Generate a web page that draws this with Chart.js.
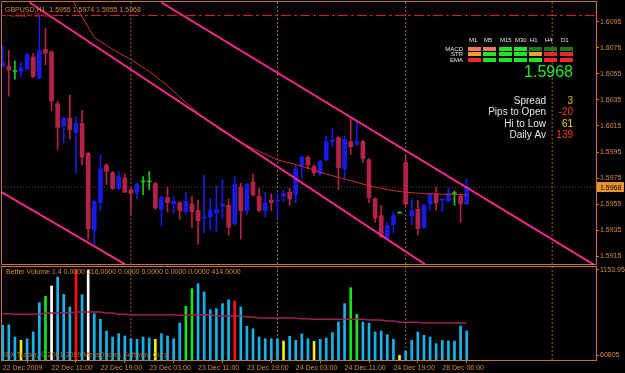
<!DOCTYPE html>
<html>
<head>
<meta charset="utf-8">
<script src="https://cdn.jsdelivr.net/npm/chart.js@4/dist/chart.umd.min.js"></script>
<style>
  html, body { margin: 0; padding: 0; background: #000; }
  #wrap { position: relative; width: 625px; height: 373px; background: #000; overflow: hidden; }
  canvas { position: absolute; left: 0; }
  #price { top: 0; }
  #vol { top: 264px; }
</style>
</head>
<body>
<div id="wrap">
  <canvas id="price" width="625" height="266"></canvas>
  <canvas id="vol" width="625" height="109"></canvas>
</div>
<script>
// Data (GBPUSD H1, one entry per bar).
const opens = [
  1.6061, 1.6061, 1.6057, 1.6057, 1.6059, 1.6068, 1.6052, 1.6074, 1.6072, 1.6032,
  1.6015, 1.6021, 1.6010, 1.6017, 1.5994, 1.5935, 1.5956, 1.5985, 1.5979, 1.5967,
  1.5975, 1.5966, 1.5964, 1.5972, 1.5972, 1.5971, 1.5951, 1.5960, 1.5955, 1.5956,
  1.5949, 1.5955, 1.5950, 1.5944, 1.5945, 1.5948, 1.5953, 1.5954, 1.5940, 1.5968,
  1.5950, 1.5972, 1.5961, 1.5950, 1.5958, 1.5957, 1.5961, 1.5964, 1.5962, 1.5984,
  1.5991, 1.5984, 1.5978, 1.5989, 1.6003, 1.6006, 1.5982, 1.6003, 1.6001, 1.6003,
  1.5989, 1.5959, 1.5946, 1.5929, 1.5939, 1.5948, 1.5987, 1.5946, 1.5951, 1.5937,
  1.5955, 1.5963, 1.5958, 1.5957, 1.5963, 1.5961, 1.5955,
];
const highs = [
  1.6077, 1.6073, 1.6065, 1.6064, 1.6071, 1.6071, 1.6100, 1.6090, 1.6073, 1.6034,
  1.6022, 1.6039, 1.6022, 1.6027, 1.5995, 1.5958, 1.5993, 1.5986, 1.5980, 1.5980,
  1.5978, 1.5967, 1.5971, 1.5976, 1.5980, 1.5972, 1.5961, 1.5968, 1.5961, 1.5957,
  1.5964, 1.5961, 1.5958, 1.5977, 1.5959, 1.5969, 1.5974, 1.5959, 1.5976, 1.5971,
  1.5971, 1.5978, 1.5967, 1.5964, 1.5963, 1.5963, 1.5966, 1.5967, 1.5984, 1.5992,
  1.5992, 1.5985, 1.5989, 1.6007, 1.6013, 1.6007, 1.6007, 1.6022, 1.6018, 1.6004,
  1.5990, 1.5960, 1.5954, 1.5941, 1.5949, 1.5949, 1.5992, 1.5959, 1.5958, 1.5955,
  1.5963, 1.5968, 1.5959, 1.5967, 1.5965, 1.5963, 1.5974,
];
const lows = [
  1.6060, 1.6038, 1.6051, 1.6053, 1.6058, 1.6052, 1.6051, 1.6062, 1.6027, 1.5997,
  1.6002, 1.6005, 1.5979, 1.5985, 1.5928, 1.5924, 1.5950, 1.5970, 1.5966, 1.5966,
  1.5964, 1.5947, 1.5959, 1.5962, 1.5966, 1.5951, 1.5938, 1.5949, 1.5948, 1.5943,
  1.5947, 1.5937, 1.5924, 1.5933, 1.5935, 1.5934, 1.5944, 1.5931, 1.5939, 1.5928,
  1.5947, 1.5961, 1.5949, 1.5945, 1.5950, 1.5944, 1.5957, 1.5954, 1.5956, 1.5975,
  1.5982, 1.5977, 1.5977, 1.5988, 1.5999, 1.5966, 1.5975, 1.5993, 1.6000, 1.5987,
  1.5956, 1.5941, 1.5929, 1.5928, 1.5933, 1.5948, 1.5954, 1.5939, 1.5931, 1.5936,
  1.5950, 1.5950, 1.5949, 1.5957, 1.5954, 1.5941, 1.5955,
];
const closes = [
  1.6064, 1.6058, 1.6057, 1.6060, 1.6070, 1.6053, 1.6073, 1.6071, 1.6034, 1.6014,
  1.6021, 1.6012, 1.6017, 1.5991, 1.5936, 1.5957, 1.5982, 1.5980, 1.5967, 1.5976,
  1.5964, 1.5963, 1.5970, 1.5972, 1.5972, 1.5952, 1.5960, 1.5956, 1.5957, 1.5950,
  1.5957, 1.5949, 1.5942, 1.5945, 1.5950, 1.5951, 1.5955, 1.5937, 1.5970, 1.5950,
  1.5970, 1.5962, 1.5950, 1.5956, 1.5956, 1.5958, 1.5963, 1.5959, 1.5982, 1.5991,
  1.5985, 1.5979, 1.5988, 1.6003, 1.6004, 1.5983, 1.6005, 1.5999, 1.6003, 1.5990,
  1.5960, 1.5944, 1.5930, 1.5938, 1.5946, 1.5948, 1.5955, 1.5950, 1.5936, 1.5954,
  1.5962, 1.5956, 1.5959, 1.5963, 1.5963, 1.5955, 1.5968,
];

// Moving average, read at a few bars.
const maBars = [10, 11, 12, 15, 18, 21, 24, 27, 30, 33, 36, 40, 45, 49, 53, 57, 60, 63, 66, 69, 76];
const maValues = [
  1.6124, 1.6115, 1.6107, 1.6083, 1.6074, 1.6066, 1.6057, 1.6046, 1.6033, 1.6021,
  1.6011, 1.6000, 1.5989, 1.5984, 1.5978, 1.5973, 1.5969, 1.5966, 1.5964, 1.5963, 1.5962,
];

// Trend channel lines: [bar, price] end points.
const channelUpper = [[26, 1.6110], [98, 1.5905]];
const channelMiddle = [[4.4, 1.6110], [70, 1.5906]];
const channelLower = [[-0.5, 1.5965], [21, 1.5906]];

const topLevel = 1.6100;
const bidPrice = 1.5968;
const daySeparators = [21, 45, 66, 90];

// Better Volume.
const volumes = [
  431, 438, 285, 244, 264, 347, 711, 790, 918, 1030,
  815, 658, 1120, 810, 1113, 575, 505, 360, 285, 326,
  298, 264, 257, 285, 273, 257, 326, 298, 264, 459,
  666, 885, 947, 844, 624, 637, 699, 748, 732, 658,
  418, 388, 285, 264, 264, 264, 236, 294, 244, 323,
  264, 232, 257, 273, 339, 472, 699, 897, 567, 472,
  459, 347, 360, 314, 257, 58, 112, 244, 347, 306,
  285, 203, 244, 236, 236, 422, 360,
];
const volumeKinds = [
  'n', 'n', 'n', 'low', 'n', 'n', 'n', 'churn', 'climaxDown', 'n',
  'n', 'n', 'climaxUp', 'n', 'climaxDown', 'n', 'n', 'n', 'n', 'n',
  'n', 'n', 'n', 'n', 'n', 'low', 'n', 'n', 'n', 'n',
  'churn', 'churn', 'n', 'n', 'n', 'n', 'n', 'n', 'climaxUp', 'n',
  'n', 'n', 'n', 'n', 'n', 'n', 'low', 'n', 'n', 'n',
  'n', 'low', 'n', 'n', 'n', 'n', 'n', 'churn', 'churn', 'n',
  'n', 'n', 'n', 'n', 'n', 'low', 'n', 'n', 'n', 'n',
  'n', 'n', 'n', 'n', 'n', 'n', 'n',
];
const volumeMa = [
  575, 575, 567, 567, 567, 567, 567, 583, 583, 583,
  583, 583, 596, 596, 596, 596, 596, 583, 583, 567,
  567, 562, 562, 562, 562, 562, 562, 562, 562, 555,
  555, 555, 562, 562, 562, 546, 546, 546, 546, 546,
  534, 534, 521, 521, 521, 521, 521, 521, 521, 513,
  513, 505, 505, 505, 505, 505, 505, 505, 505, 505,
  496, 496, 496, 484, 484, 468, 468, 468, 468, 459,
  459, 459, 459, 459, 459, 459, 459,
];

// Axis labels.
const priceTicks = [1.6095, 1.6075, 1.6055, 1.6035, 1.6015, 1.5995, 1.5975, 1.5955, 1.5935, 1.5915];
const volumeTicks = [1117, 62];
const volumeTickLabels = ['1153.95', '60805'];
const timeTicks = [0, 8, 16, 24, 32, 40, 48, 56, 64, 72];
const timeLabels = [
  '22 Dec 2009', '22 Dec 11:00', '22 Dec 19:00', '23 Dec 03:00', '23 Dec 11:00',
  '23 Dec 19:00', '24 Dec 03:00', '24 Dec 11:00', '24 Dec 19:00', '28 Dec 06:00',
];

// Dashboard texts.
const timeframes = ['M1', 'M5', 'M15', 'M30', 'H1', 'H4', 'D1'];
const signalNames = ['MACD', 'STR', 'EMA'];
const signals = [
  ['weakSell', 'weakSell', 'buy', 'buy', 'weakBuy', 'weakBuy', 'weakBuy'],
  ['flat', 'buy', 'buy', 'buy', 'flat', 'sell', 'sell'],
  ['sell', 'buy', 'buy', 'buy', 'buy', 'sell', 'sell'],
];
const statNames = ['Spread', 'Pips to Open', 'Hi to Low', 'Daily Av'];
const statValues = ['3', '-20', '61', '139'];

// Styles.
const FONT = '"Liberation Sans", Arial, sans-serif';
const AXIS = '#c8782a';
const TEXT = '#de8c3a';
const BULL = '#1a1ae6';
const BEAR = '#b52248';
const DOJI = '#18c818';
const PINK = '#f5288c';
const VOL_COLORS = {n: '#14b4ea', low: '#f0f000', churn: '#14e614', climaxUp: '#ff1010', climaxDown: '#ffffff'};
const SIGNAL_COLORS = {buy: '#22e622', weakBuy: '#1a7a1a', sell: '#f02828', weakSell: '#f07860', flat: '#f0a020'};
const STAT_COLORS = ['#e8c400', '#ff3c14', '#f0e000', '#ff3c14'];

const xMin = -0.115;
const xMax = 97.18;
const priceMin = 1.590885;
const priceMax = 1.611038;
const volumeMax = 1153.95;

Chart.defaults.font.family = FONT;
Chart.defaults.font.size = 7;
Chart.defaults.color = TEXT;

const bars = opens.map((_, i) => i);

function candleColor(i) {
  if (closes[i] > opens[i]) {
    return BULL;
  }
  return closes[i] < opens[i] ? BEAR : DOJI;
}

function toPoints(pairs) {
  return pairs.map(([x, y]) => ({x, y}));
}

function line(data, color, extra) {
  return Object.assign({
    type: 'line',
    data,
    borderColor: color,
    borderWidth: 1,
    pointRadius: 0,
    clip: 0,
  }, extra);
}

function separators(lo, hi) {
  return daySeparators.map((b) => line(
    [{x: b, y: lo}, {x: b, y: hi}], '#a8642a', {borderDash: [2, 2], order: 5},
  ));
}

// Orange frame round the plot area.
const framePlugin = {
  id: 'frame',
  afterDraw(chart) {
    const a = chart.chartArea;
    const ctx = chart.ctx;
    ctx.save();
    ctx.strokeStyle = AXIS;
    ctx.lineWidth = 1;
    ctx.strokeRect(a.left - 0.5, a.top - 0.5, a.width + 1, a.height + 1);
    ctx.restore();
  },
};

function xScale(display) {
  const scale = {
    type: 'linear',
    min: xMin,
    max: xMax,
    offset: false,
    display,
    afterBuildTicks: (s) => {
      s.ticks = timeTicks.map((value) => ({value}));
    },
    ticks: {
      autoSkip: false,
      maxRotation: 0,
      minRotation: 0,
      align: 'start',
      padding: 1,
      callback: (v, i) => timeLabels[i],
    },
    grid: {drawOnChartArea: false, color: AXIS, tickLength: 3},
    border: {display: false},
  };
  if (display) {
    scale.afterFit = (s) => {
      s.height = 13;
      s.paddingLeft = 0;
      s.paddingRight = 0;
    };
  }
  return scale;
}

function yScale(min, max, tickValues, labelFor) {
  return {
    position: 'right',
    min,
    max,
    afterBuildTicks: (s) => {
      s.ticks = tickValues.map((value) => ({value}));
    },
    afterFit: (s) => {
      s.width = 29;
      s.paddingTop = 0;
      s.paddingBottom = 0;
    },
    ticks: {autoSkip: false, padding: 1, callback: labelFor},
    grid: {drawOnChartArea: false, color: AXIS, tickLength: 3},
    border: {display: false},
  };
}

// Title, dashboard and bid box on the price panel.
const pricePanelPlugin = {
  id: 'pricePanel',
  afterDraw(chart) {
    const ctx = chart.ctx;
    const y = chart.scales.y;
    const last = opens.length - 1;
    ctx.save();
    ctx.textAlign = 'left';
    ctx.font = `7px ${FONT}`;
    ctx.fillStyle = TEXT;
    const ohlc = [opens[last], highs[last], lows[last], closes[last]].map((v) => v.toFixed(4));
    ctx.fillText(`GBPUSD,H1  ${ohlc.join(' ')}`, 5, 12);
    ctx.font = `6px ${FONT}`;
    ctx.fillStyle = '#d02020';
    ctx.fillText('+ 2.0117 / 35 day', 6, 17);

    // Signal matrix.
    ctx.fillStyle = '#e8e8e8';
    ctx.font = `6px ${FONT}`;
    timeframes.forEach((tf, k) => {
      ctx.fillText(tf, Math.round(468 + k * 15.27) + 1, 42);
    });
    ctx.textAlign = 'right';
    signalNames.forEach((name, r) => {
      ctx.fillStyle = '#e8e8e8';
      ctx.fillText(name, 463, [50.5, 56.2, 62][r]);
      signals[r].forEach((state, k) => {
        ctx.fillStyle = SIGNAL_COLORS[state];
        ctx.fillRect(Math.round(468 + k * 15.27), [47, 52, 58][r], 13, 4);
      });
    });

    ctx.font = `16px ${FONT}`;
    ctx.fillStyle = '#22e622';
    ctx.fillText(bidPrice.toFixed(4), 573, 76.5);

    ctx.font = `10px ${FONT}`;
    statNames.forEach((name, r) => {
      const base = [103.7, 115.4, 127, 137.7][r];
      ctx.fillStyle = '#e6e6e6';
      ctx.fillText(name, 546, base);
      ctx.fillStyle = STAT_COLORS[r];
      ctx.fillText(statValues[r], 573, base);
    });

    // Bid price box on the axis.
    const by = Math.round(y.getPixelForValue(bidPrice));
    ctx.fillStyle = '#e8922e';
    ctx.fillRect(597, by - 5, 27, 10);
    ctx.fillStyle = '#000';
    ctx.textAlign = 'left';
    ctx.font = `7px ${FONT}`;
    ctx.fillText(bidPrice.toFixed(4), 600, by + 2.5);
    ctx.restore();
  },
};

const volumePanelPlugin = {
  id: 'volumePanel',
  afterDraw(chart) {
    const ctx = chart.ctx;
    ctx.save();
    ctx.font = `7px ${FONT}`;
    ctx.fillStyle = TEXT;
    ctx.textAlign = 'left';
    ctx.fillText(
      'Better Volume 1.4 0.0000 316.0000 0.0000 0.0000 0.0000 0.0000 414.0000', 6, 9.5,
    );
    ctx.fillStyle = '#b8702e';
    ctx.fillText('IFX Trader, © 2001-2009 MetaQuotes Software Corp.', 4, 92.5);
    ctx.restore();
  },
};

function makePriceChart() {
  const ctx = document.getElementById('price').getContext('2d');
  const flat = (level, color, dash) => line(
    [{x: xMin - 1, y: level}, {x: xMax + 1, y: level}], color, {borderDash: dash, order: 5},
  );
  return new Chart(ctx, {
    type: 'bar',
    data: {
      datasets: [
        line(toPoints(channelUpper), PINK, {borderWidth: 2, order: 0}),
        line(toPoints(channelMiddle), PINK, {borderWidth: 2, order: 0}),
        line(toPoints(channelLower), PINK, {borderWidth: 2, order: 0}),
        line(maBars.map((b, k) => ({x: b, y: maValues[k]})), '#c83030', {order: 1}),
        {
          type: 'bar',
          data: bars.map((i) => ({x: i, y: [opens[i], closes[i]]})),
          backgroundColor: bars.map(candleColor),
          barThickness: 4,
          minBarLength: 1,
          grouped: false,
          order: 2,
        },
        {
          type: 'bar',
          data: bars.map((i) => ({x: i, y: [lows[i], highs[i]]})),
          backgroundColor: bars.map(candleColor),
          barThickness: 1,
          grouped: false,
          order: 3,
        },
        ...separators(priceMin, priceMax),
        flat(topLevel, '#dc143c', [10, 3, 3, 3]),
        flat(bidPrice, '#58584e', [1, 2]),
      ],
    },
    options: {
      responsive: false,
      animation: false,
      events: [],
      layout: {padding: {left: 2, top: 2, right: 0, bottom: 2}},
      plugins: {legend: {display: false}, tooltip: {enabled: false}},
      scales: {
        x: xScale(false),
        y: yScale(priceMin, priceMax, priceTicks, (v) => Number(v).toFixed(4)),
      },
    },
    plugins: [framePlugin, pricePanelPlugin],
  });
}

function makeVolumeChart() {
  const ctx = document.getElementById('vol').getContext('2d');
  return new Chart(ctx, {
    type: 'bar',
    data: {
      datasets: [
        line(bars.map((i) => ({x: i, y: volumeMa[i]})), '#a0205a', {borderWidth: 1.5, order: 0}),
        {
          type: 'bar',
          data: bars.map((i) => ({x: i, y: volumes[i]})),
          backgroundColor: bars.map((i) => VOL_COLORS[volumeKinds[i]]),
          barThickness: 2,
          grouped: false,
          order: 2,
        },
        ...separators(0, volumeMax),
      ],
    },
    options: {
      responsive: false,
      animation: false,
      events: [],
      layout: {padding: {left: 2, top: 3, right: 0, bottom: 0}},
      plugins: {legend: {display: false}, tooltip: {enabled: false}},
      scales: {
        x: xScale(true),
        y: yScale(0, volumeMax, volumeTicks, (v, i) => volumeTickLabels[i]),
      },
    },
    plugins: [framePlugin, volumePanelPlugin],
  });
}

makePriceChart();
makeVolumeChart();
</script>
</body>
</html>
